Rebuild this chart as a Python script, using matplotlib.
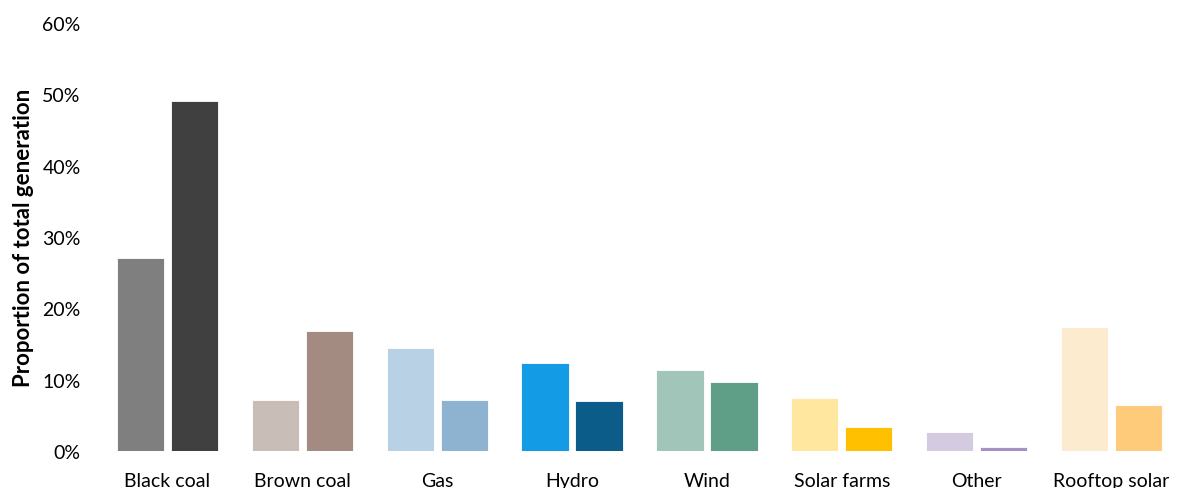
import matplotlib
matplotlib.use("Agg")
import matplotlib.pyplot as plt
import numpy as np
from matplotlib.ticker import PercentFormatter

categories = ["Black coal", "Brown coal", "Gas", "Hydro", "Wind",
              "Solar farms", "Other", "Rooftop solar"]
share_first = [27.0, 7.1, 14.4, 12.4, 11.4, 7.4, 2.7, 17.4]
share_second = [49.0, 16.8, 7.1, 7.0, 9.7, 3.3, 0.5, 6.4]

colors_first = ["#7F7F7F", "#C9BDB8", "#B9D1E4", "#149BE5", "#A1C6B9",
                "#FFE7A0", "#D5CBE1", "#FDEBD0"]
colors_second = ["#404040", "#A38B82", "#8DB3D0", "#0C5C8A", "#5F9E87",
                 "#FFC000", "#A590C3", "#FECB7B"]

plt.rcParams["font.family"] = ["Lato", "DejaVu Sans"]

fig = plt.figure(figsize=(11.79, 4.89), dpi=100)
ax = fig.add_axes([0.0848, 0.0757, 0.9152, 0.8753])

x = np.arange(len(categories))
width = 0.35
offset = 0.2
ax.bar(x - offset, share_first, width, color=colors_first,
       edgecolor="white", linewidth=0.6)
ax.bar(x + offset, share_second, width, color=colors_second,
       edgecolor="white", linewidth=0.6)

ax.set_xlim(-0.5, len(categories) - 0.5)
ax.set_ylim(0, 60)
ax.set_yticks(np.arange(0, 61, 10))
ax.yaxis.set_major_formatter(PercentFormatter(decimals=0))
ax.set_xticks(x)
ax.set_xticklabels(categories)
ax.tick_params(axis="both", length=0, labelsize=14, colors="#000000")
ax.tick_params(axis="y", pad=14)
ax.tick_params(axis="x", pad=15)

for spine in ax.spines.values():
    spine.set_visible(False)

ax.set_ylabel("Proportion of total generation", fontsize=16,
              fontweight="bold", labelpad=6)

fig.savefig("out.png", dpi=100)
